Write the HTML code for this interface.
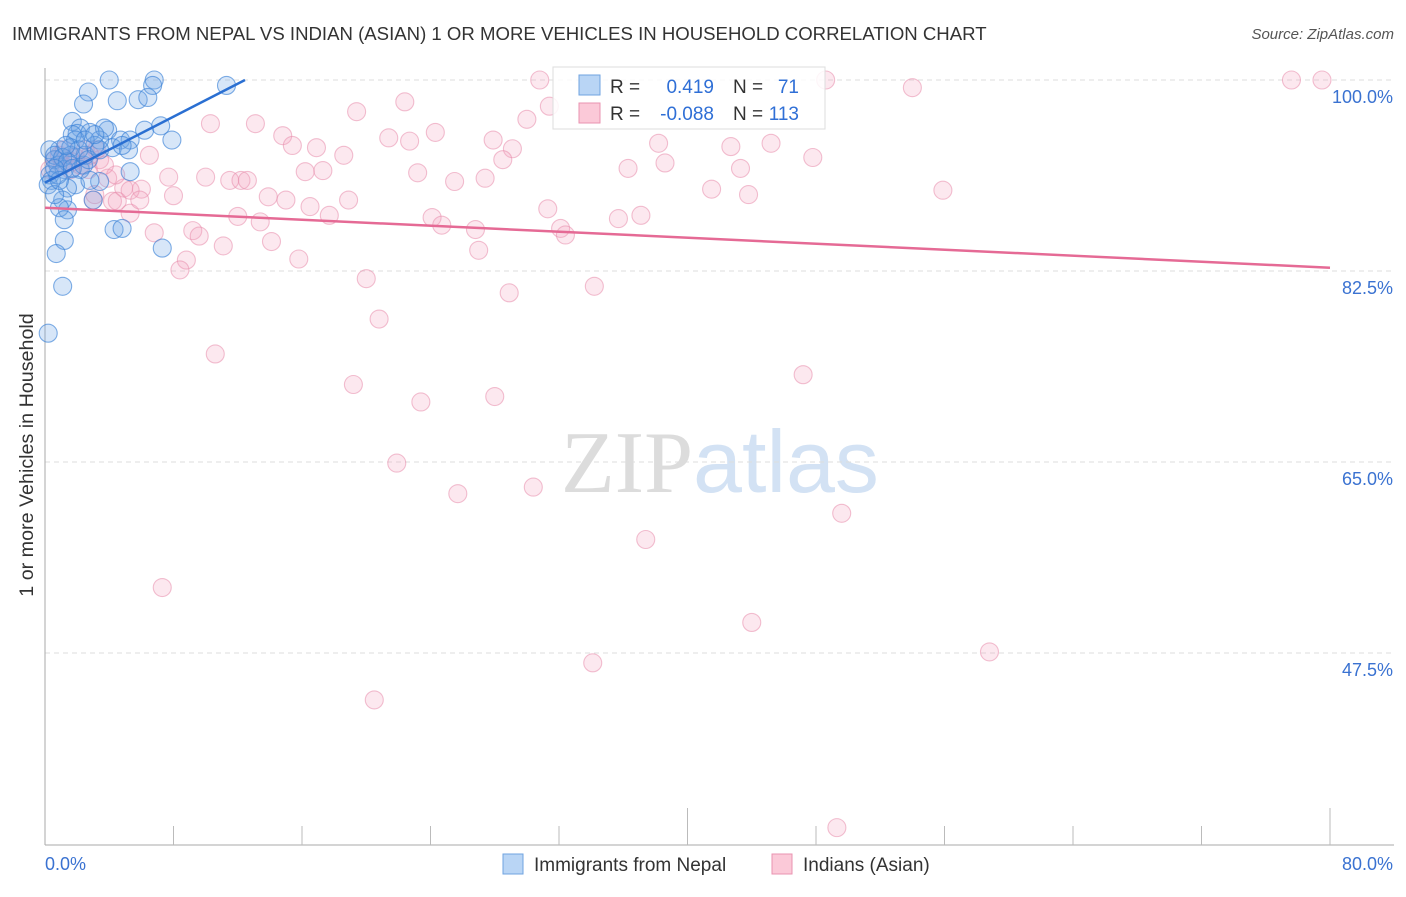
<!DOCTYPE html>
<html><head><meta charset="utf-8"><style>
body{margin:0;background:#fff;font-family:"Liberation Sans",sans-serif;}
svg text{font-family:"Liberation Sans",sans-serif;}
</style></head><body>
<svg id="chart" width="1406" height="892" xmlns="http://www.w3.org/2000/svg">
<text x="12" y="40" font-size="18.6" fill="#333">IMMIGRANTS FROM NEPAL VS INDIAN (ASIAN) 1 OR MORE VEHICLES IN HOUSEHOLD CORRELATION CHART</text>
<text x="1394" y="39" font-size="15" fill="#555" font-style="italic" text-anchor="end">Source: ZipAtlas.com</text>
<text x="720" y="492" font-size="88" text-anchor="middle"><tspan fill="#dcdcdc" font-family="Liberation Serif">ZIP</tspan><tspan fill="#d3e2f4">atlas</tspan></text>
<g id="grid"></g>
<g id="axes"></g>
<g id="pinkPts"></g>
<g id="bluePts"></g>
<g id="trends"></g>
<text transform="translate(33,455) rotate(-90)" font-size="19.7" fill="#333" text-anchor="middle">1 or more Vehicles in Household</text>
<g>
<rect x="553" y="67" width="272" height="62" fill="#fff" fill-opacity="0.85" stroke="#ddd"/>
<rect x="579" y="75" width="21" height="20" fill="#b9d5f5" stroke="#6fa3e0"/>
<rect x="579" y="103" width="21" height="20" fill="#fbc9d8" stroke="#ea93b0"/>
<text x="610" y="93" font-size="19" fill="#333">R =</text>
<text x="714" y="93" font-size="19" fill="#2f6fd6" text-anchor="end">0.419</text>
<text x="733" y="93" font-size="19" fill="#333">N =</text>
<text x="799" y="93" font-size="19" fill="#2f6fd6" text-anchor="end">71</text>
<text x="610" y="120" font-size="19" fill="#333">R =</text>
<text x="714" y="120" font-size="19" fill="#2f6fd6" text-anchor="end">-0.088</text>
<text x="733" y="120" font-size="19" fill="#333">N =</text>
<text x="799" y="120" font-size="19" fill="#2f6fd6" text-anchor="end">113</text>
</g>
<g>
<rect x="503" y="854" width="20" height="20" fill="#b9d5f5" stroke="#6fa3e0"/>
<text x="534" y="871" font-size="19" fill="#333">Immigrants from Nepal</text>
<rect x="772" y="854" width="20" height="20" fill="#fbc9d8" stroke="#ea93b0"/>
<text x="803" y="871" font-size="19" fill="#333">Indians (Asian)</text>
</g>
</svg>
<script>
const yTicks=[100,82.5,65,47.5];
const yTickLabels=["100.0%","82.5%","65.0%","47.5%"];
const xTickLabels=["0.0%","80.0%"];
const blueX=[4.0,6.8,6.7,11.3,2.7,4.5,5.8,6.4,2.4,6.2,7.9,3.9,1.7,2.2,2.0,2.8,4.7,5.3,4.2,5.2,4.8,7.2,3.4,1.7,1.9,0.9,1.6,0.6,0.8,1.2,0.3,0.4,0.2,2.2,2.4,5.3,3.4,1.9,1.4,1.1,1.4,0.9,3.0,0.6,4.3,4.8,7.3,1.2,1.2,0.7,1.1,0.2,2.5,3.1,1.6,2.1,2.7,0.3,0.6,1.1,1.4,1.7,0.8,2.8,0.9,3.4,3.7,2.5,3.1,1.3,0.6];
const blueY=[100,100,99.5,99.5,98.9,98.1,98.2,98.4,97.8,95.4,94.5,95.4,96.2,95.6,95.1,95.2,94.5,94.5,93.8,93.6,94.0,95.8,94.5,95.0,94.5,93.6,93.1,92.7,92.2,91.8,91.3,90.8,90.4,91.8,92.2,91.6,90.7,90.4,90.1,89.0,88.1,88.3,89.0,89.5,86.3,86.4,84.6,87.2,85.3,84.1,81.1,76.8,93.1,94.0,93.8,93.6,92.7,93.6,93.1,92.9,92.5,91.9,91.3,90.8,90.8,93.6,95.6,94.5,95.0,94.0,91.9];
const pinkX=[30.8,48.6,77.6,79.5,54.0,22.4,19.4,31.4,30.0,10.3,13.1,24.3,14.8,21.4,22.7,27.9,15.4,16.9,18.6,29.1,38.2,42.7,45.2,47.8,6.5,36.3,38.6,43.3,28.5,16.2,17.3,23.2,27.4,25.5,10.0,11.5,12.2,12.6,7.7,41.5,43.8,55.9,4.9,6.0,8.0,13.9,15.0,18.9,3.0,4.2,4.5,5.3,16.5,17.7,12.0,13.4,31.3,24.1,24.7,26.8,32.1,32.4,35.7,37.1,6.8,9.2,9.6,11.1,14.1,27.0,8.8,8.4,15.8,20.0,28.9,34.2,20.8,10.6,19.2,28.0,23.4,47.2,21.9,25.7,30.4,49.6,37.4,7.3,44.0,34.1,58.8,20.5,49.3,3.4,3.2,2.2,0.9,1.6,3.9,2.8,0.6,1.2,1.9,2.5,0.3,1.1,1.7,2.7,3.1,5.3,5.9,4.4,3.7];
const pinkY=[100,100,100,100,99.3,98.0,97.1,97.6,96.4,96.0,96.0,95.2,94.9,94.7,94.4,94.5,94.0,93.8,93.1,93.7,94.2,93.9,94.2,92.9,93.1,91.9,92.4,91.9,92.7,91.6,91.7,91.5,91.0,90.7,91.1,90.8,90.8,90.8,91.1,90.0,89.5,89.9,90.1,90.0,89.4,89.3,89.0,89.0,89.0,88.9,88.9,87.8,88.4,87.6,87.5,87.0,88.2,87.4,86.7,86.3,86.4,85.8,87.3,87.6,86.0,86.2,85.7,84.8,85.2,84.4,83.5,82.6,83.6,81.8,80.5,81.1,78.1,74.9,72.1,71.0,70.5,73.0,64.9,62.1,62.7,60.3,57.9,53.5,50.3,46.6,47.6,43.2,31.5,92.7,93.6,92.2,93.1,91.8,91.0,93.1,92.7,93.6,92.9,93.6,91.8,92.2,92.5,91.8,89.5,89.9,89.0,91.3,92.2];
const blueTrend={x:[0,12.45],y:[90.6,100]};
const pinkTrend={x:[0,80],y:[88.3,82.8]};
const NS="http://www.w3.org/2000/svg";
const X0=45,X1=1330,Y100=80,PXPER=(271-80)/17.5;
function sx(v){return X0+(X1-X0)*v/80;}
function sy(v){return Y100+(100-v)*PXPER;}
function mk(tag,attrs,parent){const e=document.createElementNS(NS,tag);for(const k in attrs)e.setAttribute(k,attrs[k]);parent.appendChild(e);return e;}
const grid=document.getElementById('grid'),axes=document.getElementById('axes');
yTicks.forEach((t,i)=>{
 const l=mk('line',{x1:X0,x2:1394,y1:sy(t),y2:sy(t),stroke:'#ddd','stroke-dasharray':'5,4'},grid);
 
 
 const tx=mk('text',{x:1393,y:sy(t)+23,'font-size':18,fill:'#3a72d1','text-anchor':'end'},grid);
 tx.textContent=yTickLabels[i];
 
 
});
const yax=mk('line',{x1:X0,x2:X0,y1:68,y2:845,stroke:'#aaa'},axes);


const xax=mk('line',{x1:X0,x2:1394,y1:845,y2:845,stroke:'#aaa'},axes);


for(let i=1;i<=10;i++){
 const v=i*8;const tall=(i==5||i==10);
 const tk=mk('line',{x1:sx(v),x2:sx(v),y1:tall?808:826,y2:845,stroke:'#bbb'},axes);
 
 
}
[[0,'start',xTickLabels[0]],[80,'end',xTickLabels[1]]].forEach(a=>{
 const t=mk('text',{x:a[0]==0?X0:1393,y:870,'font-size':18,fill:'#3a72d1','text-anchor':a[1]},axes);
 t.textContent=a[2];
 
 
});
function pts(xs,ys,g,fill,stroke,name){
 xs.forEach((x,i)=>{
  const c=mk('circle',{cx:sx(x),cy:sy(ys[i]),r:9,fill:fill,stroke:stroke,'stroke-width':1.1},g);
  
  
 });
}
pts(pinkX,pinkY,document.getElementById('pinkPts'),'rgba(244,165,192,0.25)','rgba(232,140,172,0.55)','indian-point');
pts(blueX,blueY,document.getElementById('bluePts'),'rgba(110,165,230,0.28)','rgba(60,130,215,0.65)','nepal-point');
const tg=document.getElementById('trends');
const bt=mk('line',{x1:sx(blueTrend.x[0]),y1:sy(blueTrend.y[0]),x2:sx(blueTrend.x[1]),y2:sy(blueTrend.y[1]),stroke:'#2a6fd2','stroke-width':2.5},tg);


const pt=mk('line',{x1:sx(pinkTrend.x[0]),y1:sy(pinkTrend.y[0]),x2:sx(pinkTrend.x[1]),y2:sy(pinkTrend.y[1]),stroke:'#e56a95','stroke-width':2.5},tg);


</script>
</body></html>
